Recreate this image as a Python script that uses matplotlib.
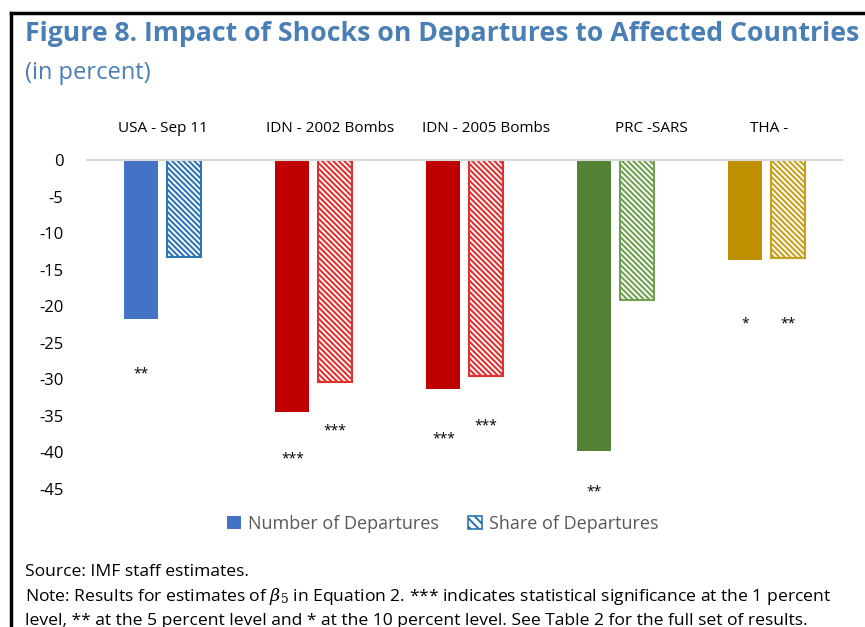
import numpy as np
import matplotlib.pyplot as plt
from matplotlib.lines import Line2D
from matplotlib.patches import Patch

# datos
eventos = ["USA - Sep 11", "IDN - 2002 Bombs", "IDN - 2005 Bombs", "PRC -SARS", "THA -"]
numero = [-21.7, -34.5, -31.3, -39.8, -13.7]
cuota = [-13.3, -30.4, -29.5, -19.1, -13.4]
estrellas_num = ["**", "***", "***", "**", "*"]
estrellas_cuota = ["", "***", "***", "", "**"]
y_estrellas_num = [-29.3, -40.9, -38.2, -45.4, -22.4]
y_estrellas_cuota = [0, -37.0, -36.4, 0, -22.4]
colores = ["#4472C4", "#C00000", "#C00000", "#548235", "#BF9000"]
bordes = ["#2E75B6", "#E03030", "#E03030", "#70A050", "#C8A020"]
yticks = [0, -5, -10, -15, -20, -25, -30, -35, -40, -45]

# desplazamiento de las etiquetas de categoria
desp_etiqueta = [0, 0.11, 0.14, 0.24, 0.02]

azul_titulo = "#4A7FB5"
plt.rcParams["font.family"] = ["Open Sans", "DejaVu Sans"]
plt.rcParams["hatch.linewidth"] = 1.5
plt.rcParams["mathtext.fontset"] = "dejavuserif"

fig = plt.figure(figsize=(8.65, 6.27), dpi=100)
ax = fig.add_axes([0.1006, 0.2201, 0.8728, 0.5247])

x = np.arange(len(eventos))
ancho = 0.225
sep = 0.055
for i in range(len(eventos)):
    ax.bar(x[i] - ancho / 2 - sep / 2, numero[i], ancho, color=colores[i], linewidth=0)
    ax.bar(x[i] + ancho / 2 + sep / 2, cuota[i], ancho, facecolor="white",
           edgecolor=bordes[i], hatch="\\\\\\\\\\\\", linewidth=1.5)
    ax.text(x[i] - ancho / 2 - sep / 2, y_estrellas_num[i], estrellas_num[i],
            ha="center", va="center", fontsize=10, clip_on=False)
    if estrellas_cuota[i]:
        ax.text(x[i] + ancho / 2 + sep / 2, y_estrellas_cuota[i], estrellas_cuota[i],
                ha="center", va="center", fontsize=10, clip_on=False)
    ax.text(x[i] + desp_etiqueta[i], 4.3, eventos[i], ha="center", va="center",
            fontsize=11, clip_on=False)

ax.set_xlim(-0.5, len(eventos) - 0.5)
ax.set_ylim(-45, 0)
ax.set_yticks(yticks)
ax.set_yticklabels([str(v) for v in yticks], fontsize=12)
ax.tick_params(axis="y", length=0, pad=17)
ax.set_xticks([])
for s in ["left", "right", "bottom"]:
    ax.spines[s].set_visible(False)
ax.spines["top"].set_color("#D9D9D9")
ax.spines["top"].set_linewidth(1.5)

# leyenda
h1 = Patch(facecolor="#4472C4", edgecolor="none")
h2 = Patch(facecolor="white", edgecolor="#2E75B6", hatch="\\\\\\\\", linewidth=1.2)
fig.legend([h1, h2], ["Number of Departures", "Share of Departures"],
           loc="center", bbox_to_anchor=(0.512, 0.164), ncol=2, frameon=False,
           fontsize=13, handlelength=0.75, handleheight=0.75, handletextpad=0.4,
           columnspacing=1.6, labelcolor="#595959")

# titulo
fig.text(0.029, 0.945, "Figure 8. Impact of Shocks on Departures to Affected Countries",
         fontsize=19.2, fontweight="bold", color=azul_titulo, va="center")
fig.text(0.029, 0.884, "(in percent)", fontsize=17, color=azul_titulo, va="center")

# notas
fig.text(0.029, 0.088, "Source: IMF staff estimates.", fontsize=12.6, va="center")
fig.text(0.029, 0.048, r"Note: Results for estimates of $\beta_5$ in Equation 2. *** indicates "
         "statistical significance at the 1 percent", fontsize=12.6, va="center")
fig.text(0.029, 0.010, "level, ** at the 5 percent level and * at the 10 percent level. "
         "See Table 2 for the full set of results.", fontsize=12.6, va="center")

# marco
fig.add_artist(Line2D([0.0127, 1.0], [0.9793, 0.9793], color="black", lw=2.5,
                      transform=fig.transFigure))
fig.add_artist(Line2D([0.0127, 0.0127], [0.9793, 0.0], color="black", lw=2.5,
                      transform=fig.transFigure))

fig.savefig("out.png", dpi=100)
